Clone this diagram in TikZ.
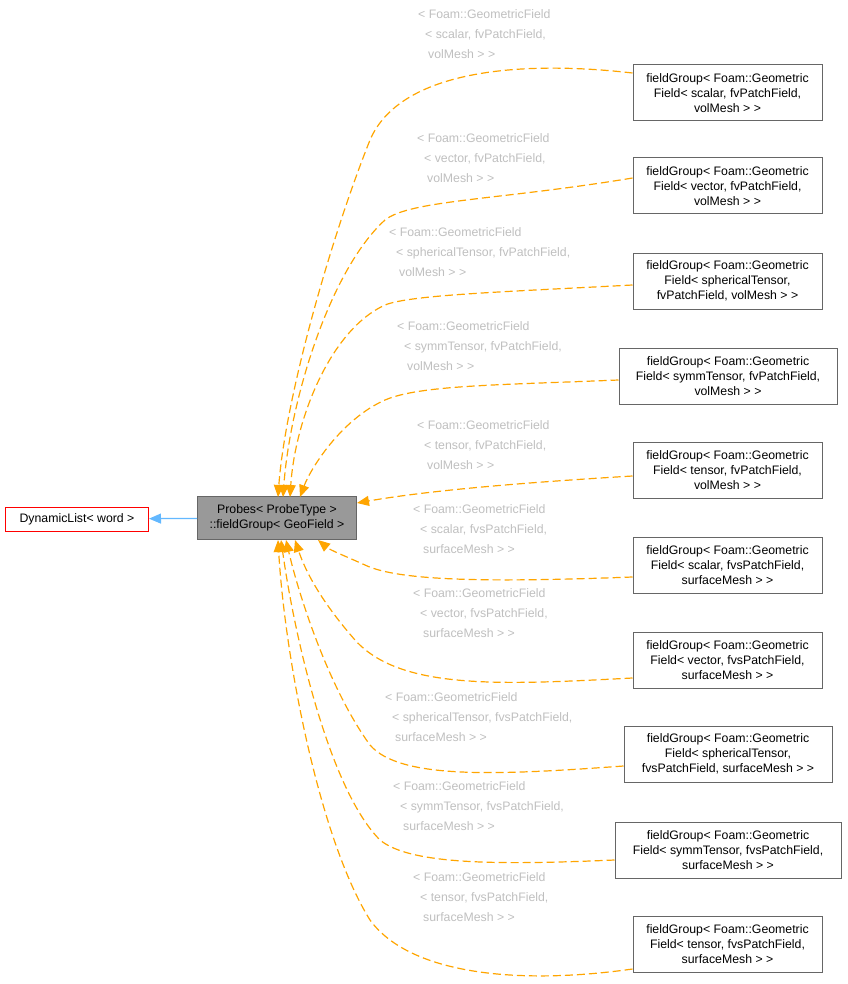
\documentclass[tikz,border=0pt]{standalone}
\usepackage{fontspec}
\setmainfont{Liberation Sans}
\usetikzlibrary{arrows.meta}
\definecolor{edgeor}{HTML}{FFA500}
\definecolor{inh}{HTML}{63B8FF}
\begin{document}
\begin{tikzpicture}[x=1pt,y=-1pt,
  box/.style={draw=black!60,line width=1pt,fill=white,align=center,font=\fontsize{12.3}{15}\selectfont,inner sep=0pt,minimum height=56pt},
  lab/.style={text=black!25,align=left,font=\fontsize{12.3}{20}\selectfont,anchor=north west,inner sep=0pt},
  dep/.style={draw=edgeor,line width=1.2pt,dash pattern=on 8pt off 4pt,-{Triangle[length=12pt,width=10pt,fill=edgeor]}}]
\useasboundingbox (0,0) rectangle (847,984);
\node[draw=red,line width=1pt,fill=white,minimum width=143pt,minimum height=24pt,inner sep=0pt,font=\fontsize{12.3}{15}\selectfont] (dl) at (77,519) {DynamicList< word >};
\node[draw=black!60,line width=1pt,fill=black!40,minimum width=159pt,minimum height=43pt,inner sep=0pt,align=center,font=\fontsize{12.3}{15}\selectfont] (pr) at (277,518) {Probes< ProbeType >\\::fieldGroup< GeoField >};
\draw[draw=inh,line width=1.2pt,-{Triangle[length=12pt,width=10pt,fill=inh]}] (pr) -- (dl);
\node[box,minimum width=189pt] (b1) at (727.5,93) {fieldGroup< Foam::Geometric\\Field< scalar, fvPatchField,\\volMesh > >};
\node[box,minimum width=189pt] (b2) at (727.5,186) {fieldGroup< Foam::Geometric\\Field< vector, fvPatchField,\\volMesh > >};
\node[box,minimum width=189pt] (b3) at (727.5,281) {fieldGroup< Foam::Geometric\\Field< sphericalTensor,\\fvPatchField, volMesh > >};
\node[box,minimum width=218pt] (b4) at (728,376) {fieldGroup< Foam::Geometric\\Field< symmTensor, fvPatchField,\\volMesh > >};
\node[box,minimum width=189pt] (b5) at (727.5,470) {fieldGroup< Foam::Geometric\\Field< tensor, fvPatchField,\\volMesh > >};
\node[box,minimum width=189pt] (b6) at (727.5,565) {fieldGroup< Foam::Geometric\\Field< scalar, fvsPatchField,\\surfaceMesh > >};
\node[box,minimum width=189pt] (b7) at (727.5,660) {fieldGroup< Foam::Geometric\\Field< vector, fvsPatchField,\\surfaceMesh > >};
\node[box,minimum width=208pt] (b8) at (728,754) {fieldGroup< Foam::Geometric\\Field< sphericalTensor,\\fvsPatchField, surfaceMesh > >};
\node[box,minimum width=226pt] (b9) at (728,850) {fieldGroup< Foam::Geometric\\Field< symmTensor, fvsPatchField,\\surfaceMesh > >};
\node[box,minimum width=189pt] (b10) at (727.5,944) {fieldGroup< Foam::Geometric\\Field< tensor, fvsPatchField,\\surfaceMesh > >};
\coordinate (e1) at (278,497); \coordinate (e2) at (283,497); \coordinate (e3) at (290,497);
\coordinate (e4) at (300,497); \coordinate (e5) at (357,503); \coordinate (e6) at (318,540);
\coordinate (e7) at (295,540); \coordinate (e8) at (286,540); \coordinate (e9) at (281,540); \coordinate (e10) at (278,540);
\draw[dep] (b1.west) ++(0,-20) .. controls (520,60) and (400,70) .. (370,140) .. controls (330,240) and (285,400) .. (e1);
\draw[dep] (b2.west) ++(0,-8) .. controls (500,200) and (410,200) .. (385,220) .. controls (330,270) and (290,400) .. (e2);
\draw[dep] (b3.west) ++(0,4) .. controls (500,292) and (410,295) .. (385,305) .. controls (330,330) and (295,420) .. (e3);
\draw[dep] (b4.west) ++(0,4) .. controls (500,385) and (420,385) .. (385,400) .. controls (340,420) and (310,470) .. (e4);
\draw[dep] (b5.west) ++(0,6) .. controls (500,484) and (420,492) .. (e5);
\draw[dep] (b6.west) ++(0,12) .. controls (500,582) and (400,582) .. (365,565) .. controls (345,556) and (330,550) .. (e6);
\draw[dep] (b7.west) ++(0,18) .. controls (500,685) and (400,690) .. (355,640) .. controls (320,600) and (305,570) .. (e7);
\draw[dep] (b8.west) ++(0,12) .. controls (500,775) and (400,780) .. (370,745) .. controls (330,690) and (300,600) .. (e8);
\draw[dep] (b9.west) ++(0,10) .. controls (500,865) and (410,865) .. (380,840) .. controls (330,790) and (295,640) .. (e9);
\draw[dep] (b10.west) ++(0,25) .. controls (520,985) and (410,975) .. (370,920) .. controls (320,840) and (285,660) .. (e10);
\node[lab] (l1) at (418,9) {< Foam::GeometricField\\\hspace*{7pt}< scalar, fvPatchField,\\\hspace*{10pt}volMesh > >};
\node[lab] (l2) at (417,133) {< Foam::GeometricField\\\hspace*{7pt}< vector, fvPatchField,\\\hspace*{10pt}volMesh > >};
\node[lab] (l3) at (389,227) {< Foam::GeometricField\\\hspace*{7pt}< sphericalTensor, fvPatchField,\\\hspace*{10pt}volMesh > >};
\node[lab] (l4) at (397,321) {< Foam::GeometricField\\\hspace*{7pt}< symmTensor, fvPatchField,\\\hspace*{10pt}volMesh > >};
\node[lab] (l5) at (417,420) {< Foam::GeometricField\\\hspace*{7pt}< tensor, fvPatchField,\\\hspace*{10pt}volMesh > >};
\node[lab] (l6) at (413,504) {< Foam::GeometricField\\\hspace*{7pt}< scalar, fvsPatchField,\\\hspace*{10pt}surfaceMesh > >};
\node[lab] (l7) at (413,588) {< Foam::GeometricField\\\hspace*{7pt}< vector, fvsPatchField,\\\hspace*{10pt}surfaceMesh > >};
\node[lab] (l8) at (385,692) {< Foam::GeometricField\\\hspace*{7pt}< sphericalTensor, fvsPatchField,\\\hspace*{10pt}surfaceMesh > >};
\node[lab] (l9) at (393,781) {< Foam::GeometricField\\\hspace*{7pt}< symmTensor, fvsPatchField,\\\hspace*{10pt}surfaceMesh > >};
\node[lab] (l10) at (413,872) {< Foam::GeometricField\\\hspace*{7pt}< tensor, fvsPatchField,\\\hspace*{10pt}surfaceMesh > >};
\end{tikzpicture}
\end{document}
